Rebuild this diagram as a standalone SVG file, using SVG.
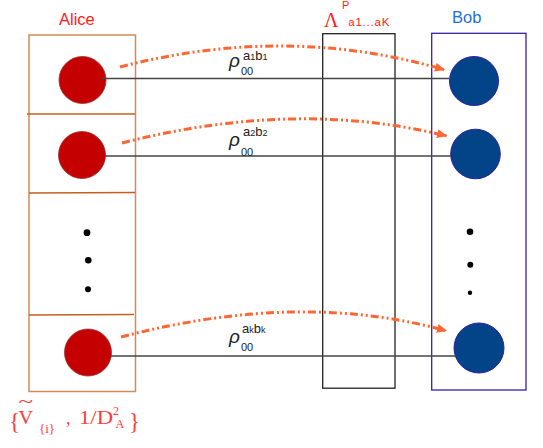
<svg xmlns="http://www.w3.org/2000/svg" width="543" height="448" viewBox="0 0 543 448">
<style>
.sans{font-family:"Liberation Sans",Arial,sans-serif}
.serif{font-family:"Liberation Serif","Times New Roman",serif}
.abox{fill:none;stroke:#D4895A;stroke-width:1.5}
.div{stroke:#C5601C;stroke-width:1.5}
.red{fill:#C40000;stroke:#9B2D2D;stroke-width:0.8}
.blue{fill:#034488;stroke:#2E1FA5;stroke-width:1}
.dot{fill:#000}
.link{stroke:#444;stroke-width:1.5;fill:none}
.arc{fill:none;stroke:#FF6633;stroke-width:3;stroke-dasharray:8 3 2 3 2 3}
.lbl{fill:#222}
.rt{fill:#FF2020}
</style>
<defs>
<marker id="ah" markerUnits="userSpaceOnUse" markerWidth="12" markerHeight="10" refX="10" refY="4.5" orient="auto">
<path d="M0,0 L10,4.5 L0,9 z" fill="#FF6633"/>
</marker>
</defs>

<g id="alice">
<rect class="abox" x="29" y="35" width="106.5" height="356.5"/>
<line class="div" x1="27" y1="114" x2="135" y2="114"/>
<line class="div" x1="29" y1="193" x2="135" y2="192.5"/>
<line class="div" x1="29" y1="315" x2="134" y2="314.5"/>
<circle class="red" cx="82.5" cy="80" r="23.5"/>
<circle class="red" cx="82" cy="155" r="23.5"/>
<circle class="red" cx="88" cy="352.5" r="23.5"/>
<circle class="dot" cx="87" cy="232.7" r="3.4"/>
<circle class="dot" cx="88.3" cy="260.3" r="3.3"/>
<circle class="dot" cx="88" cy="289.3" r="3"/>
<text class="sans" x="59" y="25" font-size="16.5" fill="#FF1A1A">Alice</text>
</g>

<g id="channel">
<rect x="322.7" y="33.7" width="72.3" height="354.5" fill="none" stroke="#222" stroke-width="1.3"/>
<text class="serif rt" x="324" y="27" font-size="20">Λ</text>
<text class="sans rt" x="342" y="9" font-size="11">P</text>
<text class="sans rt" x="348.3" y="26" font-size="11.5" textLength="41" lengthAdjust="spacing">a1...aK</text>
</g>

<g id="bob">
<rect x="431.7" y="33.3" width="94.3" height="356.7" fill="none" stroke="#3A1FA8" stroke-width="1.3"/>
<circle class="blue" cx="474" cy="81" r="24.5"/>
<circle class="blue" cx="475.5" cy="154" r="24.8"/>
<circle class="blue" cx="479" cy="348" r="25"/>
<circle class="dot" cx="470" cy="231.7" r="3.3"/>
<circle class="dot" cx="470.3" cy="264.7" r="3"/>
<circle class="dot" cx="470" cy="292.7" r="2.2"/>
<text class="sans" x="452" y="23" font-size="16.5" fill="#1F6FD6">Bob</text>
</g>

<g id="connectors">
<line class="link" x1="101" y1="78.5" x2="449" y2="78.5"/>
<line class="link" x1="105" y1="156" x2="451" y2="156"/>
<line class="link" x1="111" y1="356" x2="455" y2="356"/>
<path class="arc" d="M120,67 Q287,23.5 445,70" marker-end="url(#ah)"/>
<path class="arc" d="M122,143 Q295,98.5 447,136" marker-end="url(#ah)"/>
<path class="arc" d="M121,337 Q300,290 447,331" marker-end="url(#ah)"/>
</g>

<g id="labels">
<text class="sans lbl" x="229" y="67" font-size="19" font-style="italic">ρ</text>
<text class="sans lbl" x="243" y="60" font-size="13">a<tspan font-size="9">1</tspan>b<tspan font-size="9">1</tspan></text>
<text class="sans lbl" x="241" y="74.5" font-size="11">00</text>

<text class="sans lbl" x="229" y="146" font-size="19" font-style="italic">ρ</text>
<text class="sans lbl" x="243" y="136" font-size="13">a<tspan font-size="9">2</tspan>b<tspan font-size="9">2</tspan></text>
<text class="sans lbl" x="241" y="156" font-size="11">00</text>

<text class="sans lbl" x="229" y="343" font-size="19" font-style="italic">ρ</text>
<text class="sans lbl" x="242" y="333" font-size="13">a<tspan font-size="9">k</tspan>b<tspan font-size="9">k</tspan></text>
<text class="sans lbl" x="241" y="351" font-size="11">00</text>
</g>

<g id="formula" class="serif" fill="#FF3B3B">
<text x="9" y="429" font-size="23">{</text>
<text x="18.5" y="408" font-size="18" textLength="14.5" lengthAdjust="spacingAndGlyphs">~</text>
<text x="18.5" y="424" font-size="18" textLength="14.5" lengthAdjust="spacingAndGlyphs">V</text>
<text x="39" y="433" font-size="13" textLength="16" lengthAdjust="spacingAndGlyphs">{i}</text>
<text x="66" y="424" font-size="18">,</text>
<text x="79" y="424" font-size="18" textLength="34" lengthAdjust="spacingAndGlyphs">1/D</text>
<text x="113" y="415" font-size="12">2</text>
<text x="115.5" y="428" font-size="12">A</text>
<text x="129" y="429" font-size="23">}</text>
</g>
</svg>
